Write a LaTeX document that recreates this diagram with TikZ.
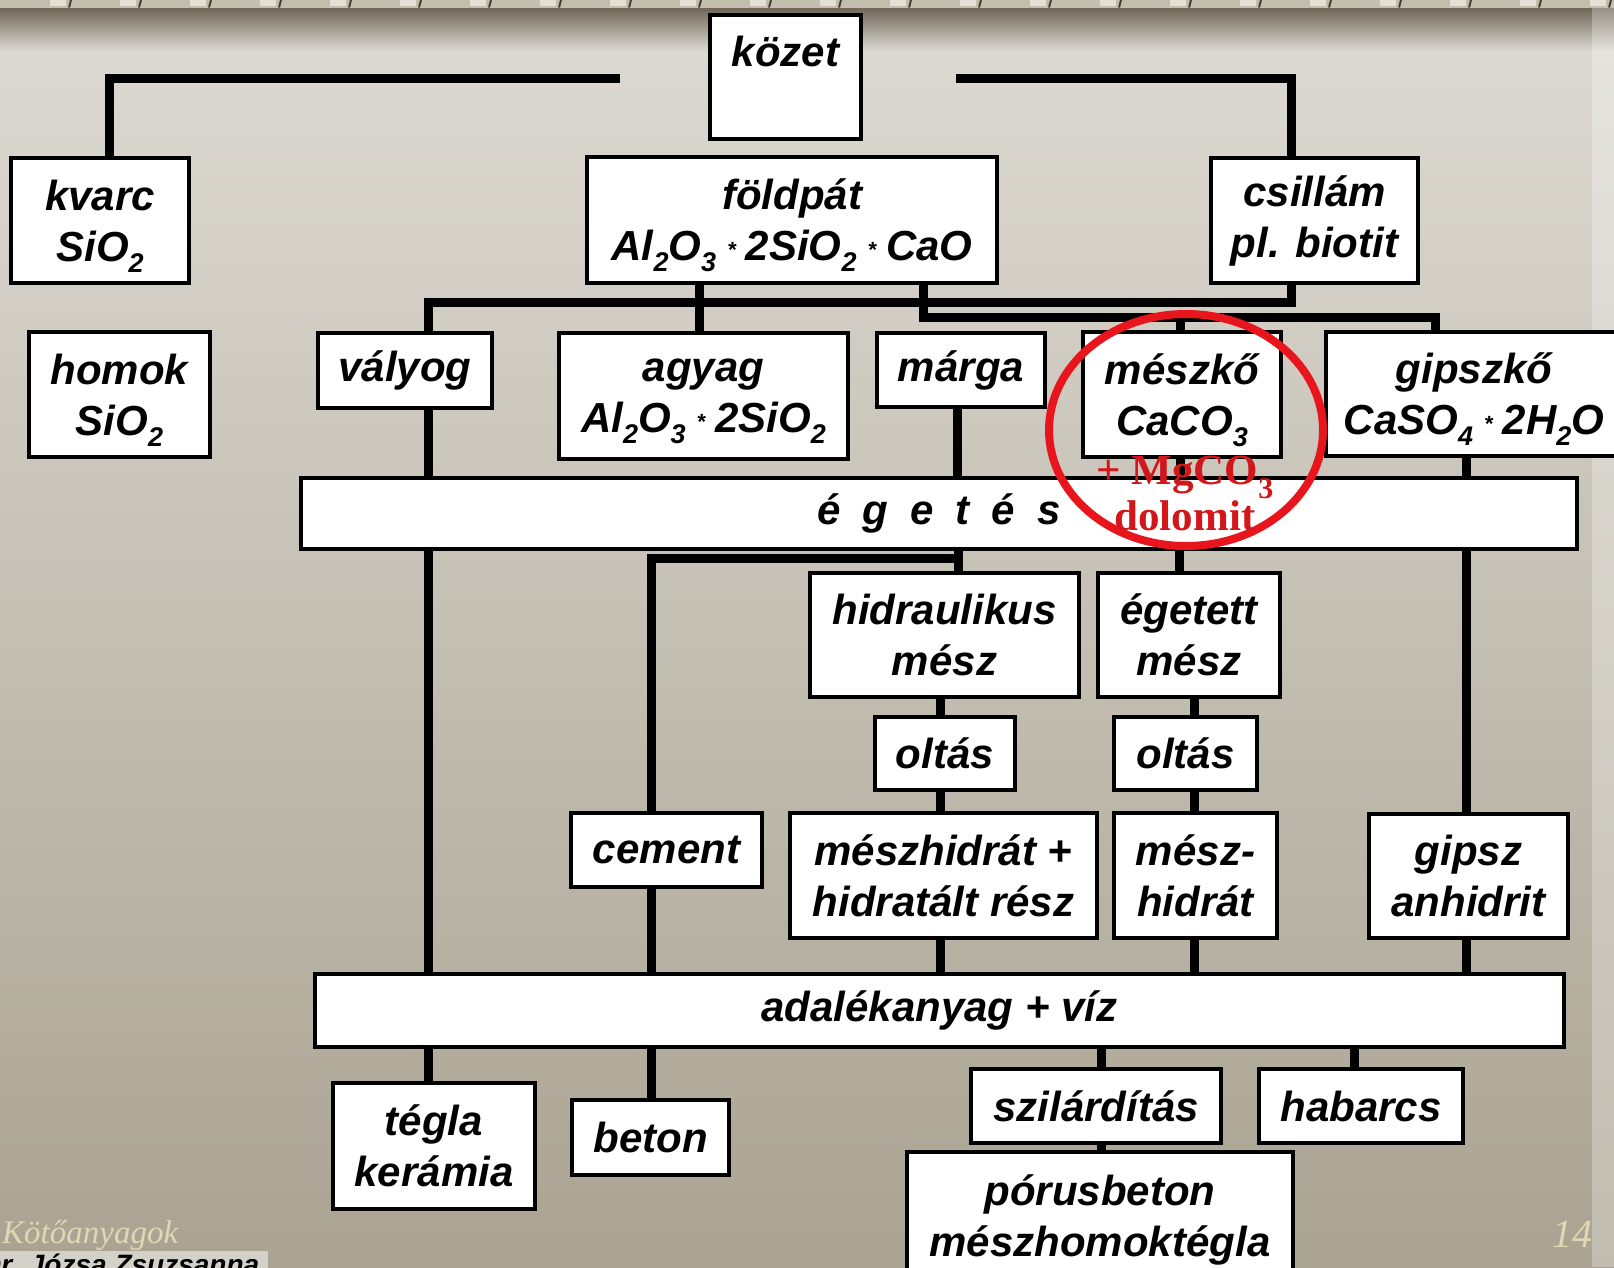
\documentclass[tikz,border=0pt]{standalone}
\usepackage{fontspec}
\setmainfont{Liberation Sans}
\newfontfamily\serifrm{Liberation Serif}
\definecolor{bgtop}{RGB}{220,217,210}
\definecolor{bgmid}{RGB}{201,196,184}
\definecolor{bgbot}{RGB}{170,163,146}
\definecolor{hdark}{RGB}{110,102,86}
\definecolor{stripc}{RGB}{196,190,175}
\definecolor{stripl}{RGB}{228,224,214}
\definecolor{tickc}{RGB}{70,64,52}
\definecolor{ringred}{RGB}{232,22,28}
\definecolor{txtred}{RGB}{210,22,26}
\definecolor{footc}{RGB}{224,215,180}
\definecolor{authbg}{RGB}{212,209,201}
\newcommand\chs[1]{\raisebox{-11pt}[0pt][0pt]{\fontsize{27}{27}\selectfont #1}}
\newcommand\mstar{\hspace{11pt}\raisebox{3pt}{\fontsize{22}{22}\selectfont *}\hspace{10pt}}
\newcommand\rchs[1]{\raisebox{-14pt}[0pt][0pt]{\fontsize{30}{30}\selectfont #1}}
\newcommand\egsp{\kern 22pt}
\pgfdeclarelayer{bg}
\pgfsetlayers{bg,main}
\tikzset{
  bx/.style={draw=black, line width=3.5pt, fill=white, inner sep=0pt, align=center,
    font=\fontsize{42}{51}\selectfont\bfseries\itshape},
  conn/.style={line width=9pt, line join=miter, draw=black},
}
\begin{document}
\begin{tikzpicture}[x=1pt,y=-1pt]
\useasboundingbox (0,0) rectangle (1614,1267);

% ---------- boxes ----------
\node[bx, minimum width=151pt, minimum height=124pt] (kozet) at (785.5,77) {közet\\\mbox{}};
\node[bx, minimum width=178pt, minimum height=125pt] (kvarc) at (100,220.5) {kvarc\\SiO\chs{2}};
\node[bx, minimum width=410pt, minimum height=126pt] (foldpat) at (792,220) {földpát\\Al\chs{2}O\chs{3}\mstar 2SiO\chs{2}\mstar CaO};
\node[bx, minimum width=207pt, minimum height=125pt] (csillam) at (1314.5,220.5) {csillám\\pl. biotit};
\node[bx, minimum width=181pt, minimum height=125pt] (homok) at (119.5,394.5) {homok\\SiO\chs{2}};
\node[bx, minimum width=174pt, minimum height=75pt] (valyog) at (405,370.5) {vályog};
\node[bx, minimum width=289pt, minimum height=126pt] (agyag) at (703.5,396) {agyag\\Al\chs{2}O\chs{3}\mstar 2SiO\chs{2}};
\node[bx, minimum width=168pt, minimum height=74pt] (marga) at (961,370) {márga};
\node[bx, minimum width=198pt, minimum height=125pt] (meszko) at (1182,394.5) {mészkő\\CaCO\chs{3}};
\node[bx, minimum width=296pt, minimum height=124pt] (gipszko) at (1474,394) {gipszkő\\CaSO\chs{4}\mstar 2H\chs{2}O};
\node[bx, minimum width=1276pt, minimum height=71pt] (eget) at (939,513.5) {é\egsp g\egsp e\egsp t\egsp é\egsp s};
\node[bx, minimum width=269pt, minimum height=124pt] (hidr) at (944.5,635) {hidraulikus\\mész};
\node[bx, minimum width=182pt, minimum height=124pt] (egetett) at (1189,635) {égetett\\mész};
\node[bx, minimum width=140pt, minimum height=73pt] (olt1) at (945,753.5) {oltás};
\node[bx, minimum width=143pt, minimum height=73pt] (olt2) at (1185.5,753.5) {oltás};
\node[bx, minimum width=191pt, minimum height=74pt] (cement) at (666.5,850) {cement};
\node[bx, minimum width=307pt, minimum height=125pt] (meszh) at (943.5,875.5) {mészhidrát +\\hidratált rész};
\node[bx, minimum width=163pt, minimum height=125pt] (meszhidrat) at (1195.5,875.5) {mész-\\hidrát};
\node[bx, minimum width=199pt, minimum height=124pt] (gipsz) at (1468.5,876) {gipsz\\anhidrit};
\node[bx, minimum width=1249pt, minimum height=73pt] (adal) at (939.5,1010.5) {adalékanyag + víz};
\node[bx, minimum width=202pt, minimum height=126pt] (tegla) at (434,1146) {tégla\\kerámia};
\node[bx, minimum width=157pt, minimum height=75pt] (beton) at (650.5,1137.5) {beton};
\node[bx, minimum width=250pt, minimum height=74pt] (szil) at (1096,1106) {szilárdítás};
\node[bx, minimum width=204pt, minimum height=74pt] (habarcs) at (1361,1106) {habarcs};
\node[bx, minimum width=386pt, minimum height=136pt] (porus) at (1100,1220) {pórusbeton\\mészhomoktégla};

% ---------- helper coordinates ----------
\coordinate (kL) at (620,78);
\coordinate (kR) at (956,78);
\coordinate (hB1) at (0,302);
\coordinate (hB2) at (0,317);
\coordinate (hB3) at (0,558);
\coordinate (vK) at (109,0);
\coordinate (vC) at (1291,0);
\coordinate (vV) at (428,0);
\coordinate (vA) at (699,0);
\coordinate (vF) at (923,0);
\coordinate (vMk) at (1180,0);
\coordinate (vG) at (1435,0);
\coordinate (vMa) at (957,0);
\coordinate (vGy) at (1466.5,0);
\coordinate (vH) at (958,0);
\coordinate (vCe) at (651,0);
\coordinate (vE) at (1179,0);
\coordinate (vO1) at (940,0);
\coordinate (vO2) at (1194,0);
\coordinate (vS) at (1101,0);
\coordinate (vHb) at (1354,0);

% ---------- background and connectors ----------
\begin{pgfonlayer}{bg}
  \shade[top color=bgtop, middle color=bgmid, bottom color=bgbot] (0,50) rectangle (1614,1267);
  \shade[top color=hdark, bottom color=bgtop] (0,7.5) rectangle (1614,51);
  \fill[stripc] (0,0) rectangle (1614,7.5);
  \foreach \i in {1,...,23} {
    \fill[stripl] (70*\i-20,0) rectangle (70*\i-4,6);
    \draw[line width=2pt, tickc] (70*\i+1,0) -- (70*\i-1,7.5);
  }
  \fill[white, opacity=0.28] (1592,7.5) rectangle (1614,1267);
  \draw[conn] (kL) -| (kvarc.north -| vK);
  \draw[conn] (kR) -| (csillam.north -| vC);
  \draw[conn] (csillam.south -| vC) |- (vV |- hB1) -- (valyog.north -| vV);
  \draw[conn] (foldpat.south -| vA) -- (agyag.north -| vA);
  \draw[conn] (foldpat.south -| vF) |- (vG |- hB2) -- (gipszko.north -| vG);
  \draw[conn] (meszko.north -| vMk) -- (vMk |- hB2);
  \draw[conn] (valyog.south -| vV) -- (tegla.north -| vV);
  \draw[conn] (marga.south -| vMa) -- (eget.north -| vMa);
  \draw[conn] (meszko.south -| vMk) -- (eget.north -| vMk);
  \draw[conn] (gipszko.south -| vGy) -- (gipsz.north -| vGy);
  \draw[conn] (gipsz.south -| vGy) -- (adal.north -| vGy);
  \draw[conn] (eget.south -| vH) -- (hidr.north -| vH);
  \draw[conn] (vH |- hB3) -| (cement.north -| vCe);
  \draw[conn] (cement.south -| vCe) -- (beton.north -| vCe);
  \draw[conn] (eget.south -| vE) -- (egetett.north -| vE);
  \draw[conn] (hidr.south -| vO1) -- (adal.north -| vO1);
  \draw[conn] (egetett.south -| vO2) -- (adal.north -| vO2);
  \draw[conn] (adal.south -| vS) -- (porus.north -| vS);
  \draw[conn] (adal.south -| vHb) -- (habarcs.north -| vHb);
\end{pgfonlayer}

% ---------- red mark ----------
\draw[ringred, line width=8pt] (1186,430) ellipse [x radius=137pt, y radius=116pt];
\node[font=\serifrm\bfseries\fontsize{43}{46}\selectfont, text=txtred, align=center, inner sep=0pt]
  (dolo) at (1185,493.5) {+ MgCO\rchs{3}\\dolomit};

% ---------- footer ----------
\node[anchor=base west, inner sep=0pt, text=footc, font=\serifrm\itshape\fontsize{33}{33}\selectfont]
  (ftitle) at (2,1243) {Kötőanyagok};
\fill[authbg] (0,1251) rectangle (268,1290);
\node[anchor=base west, inner sep=0pt, font=\bfseries\itshape\fontsize{28}{28}\selectfont]
  (author) at (-19,1274) {Dr. Józsa Zsuzsanna};
\node[anchor=base east, inner sep=0pt, text=footc, font=\serifrm\itshape\fontsize{40}{40}\selectfont]
  (pnum) at (1593,1247) {14};
\end{tikzpicture}
\end{document}
